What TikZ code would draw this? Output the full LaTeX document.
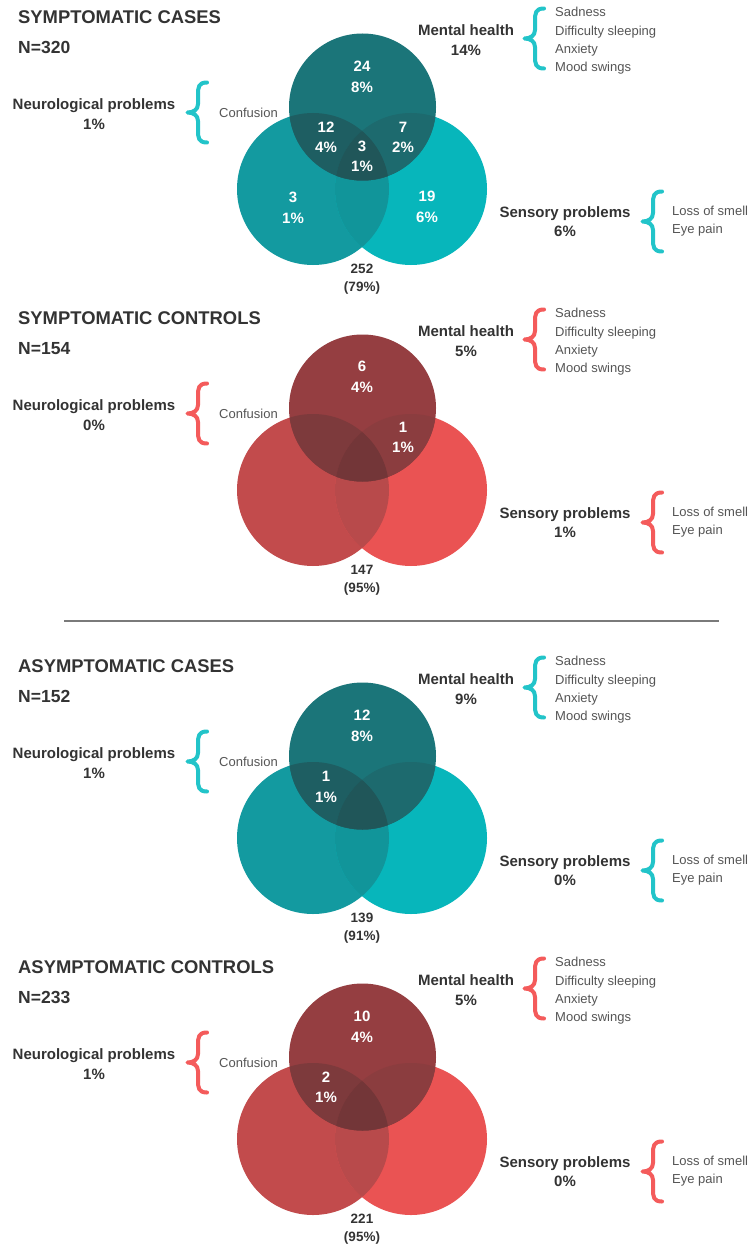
\documentclass[tikz,border=0pt]{standalone}
\usepackage{fontspec}
\setmainfont{Liberation Sans}
\definecolor{txtdark}{HTML}{333333}
\definecolor{txtgray}{HTML}{555555}
\definecolor{tealL}{HTML}{139AA0}
\definecolor{tealR}{HTML}{07B6BB}
\definecolor{tealLR}{HTML}{11959A}
\definecolor{tealT}{HTML}{1B7579}
\definecolor{tealTL}{HTML}{1E5E62}
\definecolor{tealTR}{HTML}{1D6A6E}
\definecolor{tealC}{HTML}{205659}
\definecolor{tealB}{HTML}{22C4C9}
\definecolor{redL}{HTML}{C24B4C}
\definecolor{redR}{HTML}{EA5353}
\definecolor{redLR}{HTML}{B84A4B}
\definecolor{redT}{HTML}{953E41}
\definecolor{redTL}{HTML}{7D3A3C}
\definecolor{redTR}{HTML}{8B3D3F}
\definecolor{redC}{HTML}{733638}
\definecolor{redB}{HTML}{F45B5B}
\definecolor{divgray}{HTML}{7A7A7A}
\tikzset{
 ttl/.style={font=\bfseries\fontsize{18.4}{20}\selectfont, text=txtdark, anchor=base west, inner sep=0pt},
 nlab/.style={font=\bfseries\fontsize{17.5}{20}\selectfont, text=txtdark, anchor=base west, inner sep=0pt},
 lbl/.style={font=\bfseries\fontsize{15}{17}\selectfont, text=txtdark, anchor=base, inner sep=0pt},
 itm/.style={font=\fontsize{13}{15}\selectfont, text=txtgray, anchor=base west, inner sep=0pt},
 num/.style={font=\bfseries\fontsize{15}{17}\selectfont, text=white, anchor=base, inner sep=0pt},
 tot/.style={font=\bfseries\fontsize{13.5}{15}\selectfont, text=txtdark, anchor=base, inner sep=0pt},
 brc/.style={line width=4pt, line cap=round, line join=round},
}
\newcommand{\mybrace}[3]{%
 \begin{scope}[shift={(#1,#2)}]
  \draw[brc,#3] (21,1.5) .. controls (12.5,1.5) and (12,6) .. (12,14) -- (12,23)
    .. controls (12,29) and (7,31.5) .. (1.5,31.5)
    .. controls (7,31.5) and (12,34) .. (12,40) -- (12,49)
    .. controls (12,57) and (12.5,61.5) .. (21,61.5);
 \end{scope}}
% #1 offset, #2 title, #3 N, #4 scheme, #5 mental, #6 neuro, #7 sensory, #8 total, #9 total pct
\newcommand{\vpanel}[9]{%
\begin{scope}[shift={(0,#1)}]
 \coordinate (cT#1) at (362.5,107);
 \coordinate (cL#1) at (313,189);
 \coordinate (cR#1) at (411,189);
 \fill[#4L] (cL#1) circle (76pt);
 \fill[#4R] (cR#1) circle (76pt);
 \begin{scope}\clip (cL#1) circle (76pt); \fill[#4LR] (cR#1) circle (76pt);\end{scope}
 \fill[#4T] (cT#1) circle (73.5pt);
 \begin{scope}\clip (cT#1) circle (73.5pt);
   \fill[#4TL] (cL#1) circle (76pt);
   \fill[#4TR] (cR#1) circle (76pt);
   \clip (cL#1) circle (76pt);
   \fill[#4C] (cR#1) circle (76pt);
 \end{scope}
 \node[ttl] (title#1) at (18,23.6) {#2};
 \node[nlab] (n#1) at (18,53.3) {N=#3};
 \node[lbl] (mh#1) at (466,35.4) {Mental health};
 \node[lbl] (mhp#1) at (466,55.4) {#5};
 \mybrace{523}{7}{#4B}
 \node[itm] (i1#1) at (555,16.7) {Sadness};
 \node[itm] (i2#1) at (555,35.7) {Difficulty sleeping};
 \node[itm] (i3#1) at (555,53.7) {Anxiety};
 \node[itm] (i4#1) at (555,71.7) {Mood swings};
 \node[lbl] (np#1) at (94,109.4) {Neurological problems};
 \node[lbl] (npp#1) at (94,129.4) {#6};
 \mybrace{186}{81}{#4B}
 \node[itm] (conf#1) at (219,117.7) {Confusion};
 \node[lbl] (sp#1) at (565,217.4) {Sensory problems};
 \node[lbl] (spp#1) at (565,236.4) {#7};
 \mybrace{641}{190}{#4B}
 \node[itm] (ls#1) at (672,215.7) {Loss of smell};
 \node[itm] (ep#1) at (672,233.7) {Eye pain};
 \node[tot] (tot#1) at (362,273.9) {#8};
 \node[tot] (totp#1) at (362,291.9) {(#9)};
\end{scope}}
\begin{document}
\begin{tikzpicture}[x=1pt,y=-1pt]
\fill[white] (0,0) rectangle (749,1252);
\useasboundingbox (0,0) rectangle (749,1252);
% panel 1
\vpanel{0}{SYMPTOMATIC CASES}{320}{teal}{14\%}{1\%}{6\%}{252}{79\%}
\begin{scope}
 \node[num] (a1) at (362,71.4) {24};
 \node[num] (a2) at (362,92.4) {8\%};
 \node[num] (a3) at (326,132.4) {12};
 \node[num] (a4) at (326,152.4) {4\%};
 \node[num] (a5) at (362,151.4) {3};
 \node[num] (a6) at (362,171.4) {1\%};
 \node[num] (a7) at (403,132.4) {7};
 \node[num] (a8) at (403,152.4) {2\%};
 \node[num] (a9) at (293,202.4) {3};
 \node[num] (a10) at (293,223.4) {1\%};
 \node[num] (a11) at (427,201.4) {19};
 \node[num] (a12) at (427,222.4) {6\%};
\end{scope}
% panel 2
\vpanel{301}{SYMPTOMATIC CONTROLS}{154}{red}{5\%}{0\%}{1\%}{147}{95\%}
\begin{scope}[shift={(0,301)}]
 \node[num] (b1) at (362,70.4) {6};
 \node[num] (b2) at (362,91.4) {4\%};
 \node[num] (b3) at (403,131.4) {1};
 \node[num] (b4) at (403,151.4) {1\%};
\end{scope}
% divider
\coordinate (dl) at (64,621);
\coordinate (dr) at (719,621);
\draw[divgray, line width=1.3pt] (dl) -- (dr);
% panel 3
\vpanel{649}{ASYMPTOMATIC CASES}{152}{teal}{9\%}{1\%}{0\%}{139}{91\%}
\begin{scope}[shift={(0,649)}]
 \node[num] (c1) at (362,71.4) {12};
 \node[num] (c2) at (362,92.4) {8\%};
 \node[num] (c3) at (326,132.4) {1};
 \node[num] (c4) at (326,153.4) {1\%};
\end{scope}
% panel 4
\vpanel{950}{ASYMPTOMATIC CONTROLS}{233}{red}{5\%}{1\%}{0\%}{221}{95\%}
\begin{scope}[shift={(0,950)}]
 \node[num] (d1) at (362,71.4) {10};
 \node[num] (d2) at (362,92.4) {4\%};
 \node[num] (d3) at (326,132.4) {2};
 \node[num] (d4) at (326,152.4) {1\%};
\end{scope}
\end{tikzpicture}
\end{document}
